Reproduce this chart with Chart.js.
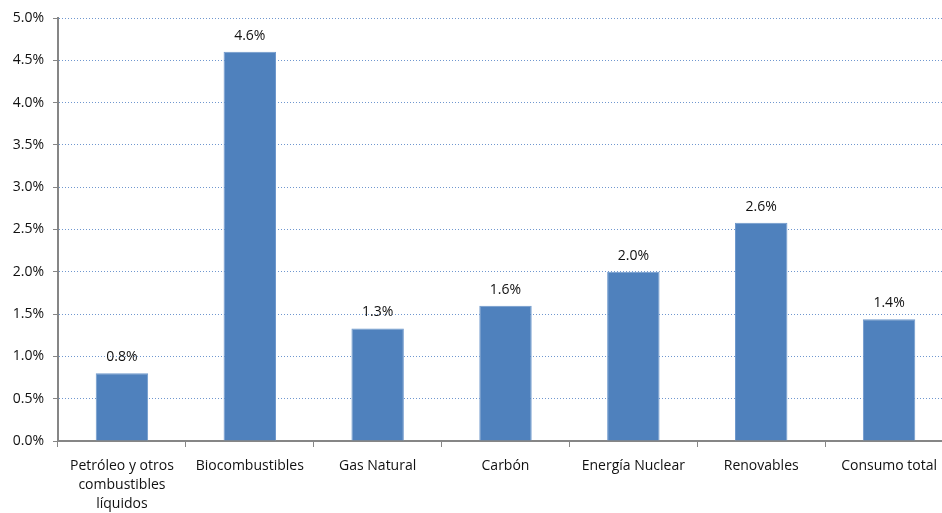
<!DOCTYPE html>
<html>
<head>
<meta charset="utf-8">
<script src="https://cdn.jsdelivr.net/npm/chart.js@4/dist/chart.umd.min.js"></script>
<style>
  html, body { margin: 0; padding: 0; background: #fff; overflow: hidden; }
  #wrap { width: 942px; height: 513px; overflow: hidden; }
  #c { display: block; }
</style>
</head>
<body>
<div id="wrap"><canvas id="c" width="953" height="513"></canvas></div>
<script>
// Crecimiento anual promedio del consumo de energía por fuente (%)
const categories = [
  ['Petróleo y otros', 'combustibles', 'líquidos'],
  'Biocombustibles',
  'Gas Natural',
  'Carbón',
  'Energía Nuclear',
  'Renovables',
  'Consumo total'
];
const growth = [0.8, 4.6, 1.33, 1.6, 2.0, 2.58, 1.44];
const yMin = 0;
const yMax = 5;
const yStep = 0.5;

const FONT = '"Open Sans", "Noto Sans", sans-serif';
const AXIS_GRAY = '#868686';
const TEXT = '#111111';

// Etiquetas de valor sobre cada barra
const valueLabels = {
  id: 'valueLabels',
  afterDatasetsDraw(chart) {
    const ctx = chart.ctx;
    const meta = chart.getDatasetMeta(0);
    const data = chart.data.datasets[0].data;
    ctx.save();
    ctx.font = '14px ' + FONT;
    ctx.fillStyle = TEXT;
    ctx.textAlign = 'center';
    ctx.textBaseline = 'middle';
    meta.data.forEach((bar, i) => {
      ctx.fillText(data[i].toFixed(1) + '%', bar.x, bar.y - 16);
    });
    ctx.restore();
  }
};

new Chart(document.getElementById('c'), {
  type: 'bar',
  data: {
    labels: categories,
    datasets: [{
      data: growth,
      backgroundColor: '#4F81BD',
      borderColor: '#6E98CC',
      borderWidth: 1,
      categoryPercentage: 1,
      barPercentage: 0.41
    }]
  },
  options: {
    responsive: false,
    animation: false,
    devicePixelRatio: 1,
    layout: { padding: { top: 18, right: 0, left: 0, bottom: 0 } },
    plugins: {
      legend: { display: false },
      tooltip: { enabled: false }
    },
    scales: {
      x: {
        grid: {
          display: true,
          offset: true,
          drawOnChartArea: false,
          drawTicks: true,
          tickLength: 6,
          tickColor: AXIS_GRAY,
          tickWidth: 1
        },
        border: { display: true, color: AXIS_GRAY, width: 2 },
        ticks: {
          color: TEXT,
          font: { family: FONT, size: 14, lineHeight: 1.37 },
          padding: 9,
          maxRotation: 0,
          autoSkip: false
        },
        afterFit(scale) { scale.height = 72; }
      },
      y: {
        min: yMin,
        max: yMax,
        grid: {
          color: '#6F97CF',
          lineWidth: 1,
          drawTicks: true,
          tickLength: 5,
          tickColor: AXIS_GRAY,
          tickWidth: 1
        },
        border: { display: true, color: AXIS_GRAY, width: 2, dash: [1, 2] },
        ticks: {
          stepSize: yStep,
          color: TEXT,
          font: { family: FONT, size: 14 },
          padding: 9,
          callback: v => v.toFixed(1) + '%'
        },
        afterFit(scale) { scale.width = 58; }
      }
    }
  },
  plugins: [valueLabels]
});
</script>
</body>
</html>
